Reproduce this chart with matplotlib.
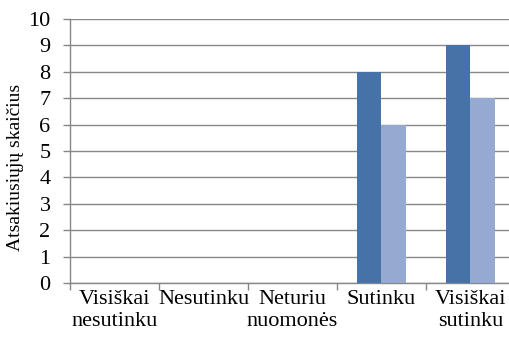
import matplotlib
matplotlib.use("Agg")
import matplotlib.pyplot as plt
import numpy as np

categories = ["Visiškai\nnesutinku", "Nesutinku", "Neturiu\nnuomonės", "Sutinku", "Visiškai\nsutinku"]
series1 = [0, 0, 0, 8, 9]
series2 = [0, 0, 0, 6, 7]
yticks = list(range(0, 11))

plt.rcParams['font.family'] = ['Liberation Serif', 'DejaVu Serif']

fig = plt.figure(figsize=(5.10, 3.41), dpi=100)
ax = fig.add_axes([70/510, 1-283/341, 445/510, 264/341])

x = np.arange(len(categories))
w = 0.28
ax.bar(x - w/2, series1, width=w, color='#4672A8', zorder=3)
ax.bar(x + w/2, series2, width=w, color='#95A9D1', zorder=3)

ax.set_xlim(-0.5, len(categories) - 0.5)
ax.set_ylim(0, 10)
ax.set_yticks(yticks)
ax.set_yticklabels([str(v) for v in yticks], fontsize=16)

ax.set_xticks(x)
ax.set_xticklabels(categories, fontsize=16, linespacing=1.2)
ax.set_xticks(np.arange(len(categories) + 1) - 0.5, minor=True)
ax.tick_params(axis='x', which='major', length=0, pad=5)
ax.tick_params(axis='x', which='minor', length=5, color='#878787', width=1)
ax.tick_params(axis='y', length=5, color='#878787', width=1, pad=9)

ax.grid(axis='y', color='#878787', linewidth=1, zorder=0)
for s in ['top', 'right']:
    ax.spines[s].set_visible(False)
for s in ['left', 'bottom']:
    ax.spines[s].set_color('#878787')
    ax.spines[s].set_linewidth(1)

ax.set_ylabel("Atsakiusiųjų skaičius", fontsize=14)
ax.yaxis.set_label_coords(-0.103, 0.436)

fig.savefig("out.png", dpi=100)
